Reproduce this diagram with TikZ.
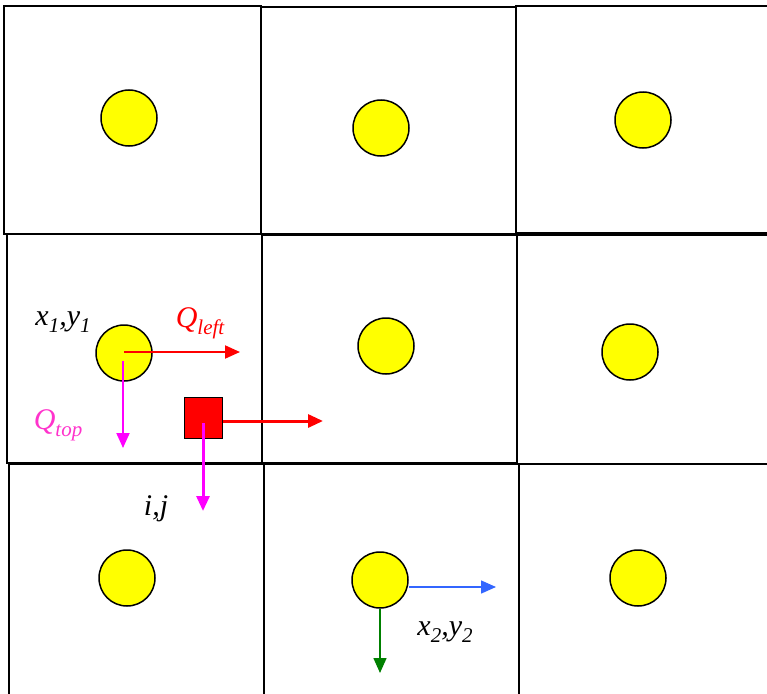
\documentclass[tikz,border=0pt]{standalone}
\usepackage{fontspec}
\setmainfont{Liberation Serif}
\usetikzlibrary{arrows.meta}
\definecolor{qred}{RGB}{255,0,0}
\definecolor{qmag}{RGB}{255,0,255}
\definecolor{qpink}{RGB}{255,51,204}
\definecolor{qblue}{RGB}{51,102,255}
\definecolor{qgreen}{RGB}{0,128,0}
\definecolor{ballyellow}{RGB}{255,255,0}
\newcommand{\sbs}[1]{\raisebox{-0.22em}{\fontsize{21}{24}\selectfont #1}}
\tikzset{
  cell/.style={draw=black, line width=2pt},
  ball/.style={circle, draw=black, line width=1.5pt, fill=ballyellow, minimum size=56pt, inner sep=0pt},
  sqbox/.style={rectangle, draw=black, line width=1pt, fill=qred, minimum width=38pt, minimum height=41pt, inner sep=0pt},
  arr/.style={-{Triangle[length=15pt,width=13pt]}, line width=2pt},
  lab/.style={font=\fontsize{30}{34}\selectfont\itshape, inner sep=0pt}
}
\begin{document}
\begin{tikzpicture}[x=1pt,y=-1pt]
\useasboundingbox[fill=white] (0,0) rectangle (767,693);
% row 1
\draw[cell] (4,6) rectangle (261,234);
\draw[cell] (261,7) rectangle (516,234);
\draw[cell] (516,6) rectangle (770,233);
% row 2
\draw[cell] (7,234) rectangle (262,463);
\draw[cell] (262,235) rectangle (517,463);
\draw[cell] (517,235) rectangle (770,464);
% row 3
\draw[cell] (9,464) rectangle (264,696);
\draw[cell] (264,464) rectangle (519,696);
\draw[cell] (519,464) rectangle (770,696);
% balls
\node[ball] (b11) at (129,118) {};
\node[ball] (b12) at (381,128) {};
\node[ball] (b13) at (643,120) {};
\node[ball] (b21) at (124,353) {};
\node[ball] (b22) at (386,346) {};
\node[ball] (b23) at (630,352) {};
\node[ball] (b31) at (127,578) {};
\node[ball] (b32) at (380,580) {};
\node[ball] (b33) at (638,578) {};
% square
\node[sqbox] (sq) at (203,417.5) {};
% coordinates
\coordinate (qlstart) at (124,352);
\coordinate (qlend) at (240,352);
\coordinate (qtstart) at (123,361);
\coordinate (qtend) at (123,448);
\coordinate (sqrend) at (323,421);
\coordinate (sqdstart) at (203,423);
\coordinate (sqdend) at (203,511);
\coordinate (blueend) at (496,587);
\coordinate (greenend) at (380,673);
% arrows
\draw[arr, qred] (qlstart) -- (qlend);
\draw[arr, qmag] (qtstart) -- (qtend);
\draw[arr, qred, line width=3pt] (sq.east |- sqrend) -- (sqrend);
\draw[arr, qmag, line width=3pt] (sqdstart) -- (sqdend);
\draw[arr, qblue, line width=1.5pt] (b32.east |- blueend) -- (blueend);
\draw[arr, qgreen, line width=1.5pt] (b32.south) -- (greenend);
% labels
\node[lab] (lx1) at (63,322) {x\sbs{1},y\sbs{1}};
\node[lab, text=qred] (lql) at (200,323) {Q\sbs{left}};
\node[lab, text=qpink] (lqt) at (58,425) {Q\sbs{top}};
\node[lab] (lij) at (156,509) {i,j};
\node[lab] (lx2) at (445,632) {x\sbs{2},y\sbs{2}};
\end{tikzpicture}
\end{document}
